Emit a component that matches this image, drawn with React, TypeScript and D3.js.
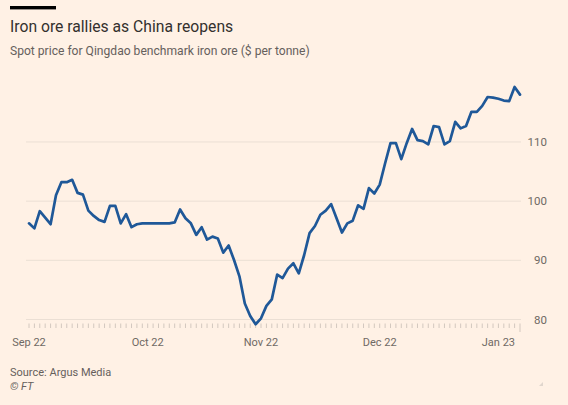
import React from "react";
import * as d3 from "d3";

const title = "Iron ore rallies as China reopens";
const subtitle = "Spot price for Qingdao benchmark iron ore ($ per tonne)";
const source = "Source: Argus Media";
const credit = "© FT";

// weekday index of each observation (Sep 1 2022 = 0 ... Jan 6 2023 = 91)
const prices: number[] = [
  96.25, 95.4, 98.3, 97.2, 96.1, 101.0, 103.2, 103.2, 103.6, 101.4,
  101.1, 98.4, 97.5, 96.8, 96.5, 99.2, 99.2, 96.25, 97.8, 95.6,
  96.1, 96.25, 96.25, 96.25, 96.25, 96.25, 96.25, 96.4, 98.6, 97.1,
  96.25, 94.3, 95.6, 93.5, 94.0, 93.7, 91.3, 92.5, 90.05, 87.3,
  82.7, 80.6, 79.2, 80.2, 82.3, 83.4, 87.6, 87.0, 88.6, 89.5,
  87.8, 90.9, 94.6, 95.8, 97.7, 98.4, 99.5, 97.1, 94.7, 96.25,
  96.7, 99.3, 98.7, 102.2, 101.3, 102.8, 106.4, 109.8, 109.8, 107.1,
  109.8, 112.2, 110.3, 110.15, 109.6, 112.7, 112.5, 109.6, 110.15, 113.4,
  112.3, 112.7, 115.1, 115.1, 116.1, 117.6, 117.5, 117.3, 117.0, 116.9,
  119.3, 118.0,
];

const monthLabels = ["Sep 22", "Oct 22", "Nov 22", "Dec 22", "Jan 23"];
const monthIndex = [0, 22, 43, 65, 87];
const yTicks = [80, 90, 100, 110];

const W = 568;
const H = 405;
const FONT = "Roboto, 'Noto Sans', sans-serif";

export default function App() {
  const n = prices.length;
  const x = d3.scaleLinear().domain([0, n - 1]).range([29, 520]);
  const y = d3.scaleLinear().domain([80, 120]).range([319.5, 82.8]);

  const line = d3
    .line<number>()
    .x((_, i) => x(i))
    .y((d) => y(d));

  const tickIdx = d3.range(n);

  return (
    <svg
      width={W}
      height={H}
      style={{ position: "absolute", left: 0, top: 0, display: "block" }}
      fontFamily={FONT}
    >
      <rect x={0} y={0} width={W} height={H} fill="#fff1e5" />
      <rect x={10} y={6} width={46} height={3.4} fill="#000" />
      <text x={10} y={31.5} fontSize={15.7} fill="#33302e">
        {title}
      </text>
      <text x={10} y={55} fontSize={12.1} fill="#66605c">
        {subtitle}
      </text>

      {yTicks.map((t) => (
        <g key={t}>
          <line x1={26} x2={521} y1={y(t)} y2={y(t)} stroke="#ebdfd4" strokeWidth={1} />
          <text x={547} y={y(t) + 4} fontSize={11.5} fill="#6f6964" textAnchor="end">
            {t}
          </text>
        </g>
      ))}

      {tickIdx.map((i) => (
        <line
          key={i}
          x1={x(i)}
          x2={x(i)}
          y1={323.5}
          y2={i === n - 1 ? 332 : 328}
          stroke="#d3c8bf"
          strokeWidth={1}
        />
      ))}

      {monthLabels.map((m, k) => (
        <text
          key={m}
          x={x(monthIndex[k])}
          y={346}
          fontSize={11}
          fill="#6f6964"
          textAnchor="middle"
        >
          {m}
        </text>
      ))}

      <path
        d={line(prices) || ""}
        fill="none"
        stroke="#1f5898"
        strokeWidth={2.7}
        strokeLinejoin="round"
        strokeLinecap="round"
      />

      <text x={10} y={376} fontSize={11} fill="#66605c">
        {source}
      </text>
      <text x={10} y={390} fontSize={11} fill="#66605c" fontStyle="italic">
        {credit}
      </text>
      <path d="M543,382 L543,386 L539,386 Z" fill="#e0d6cd" />
    </svg>
  );
}
